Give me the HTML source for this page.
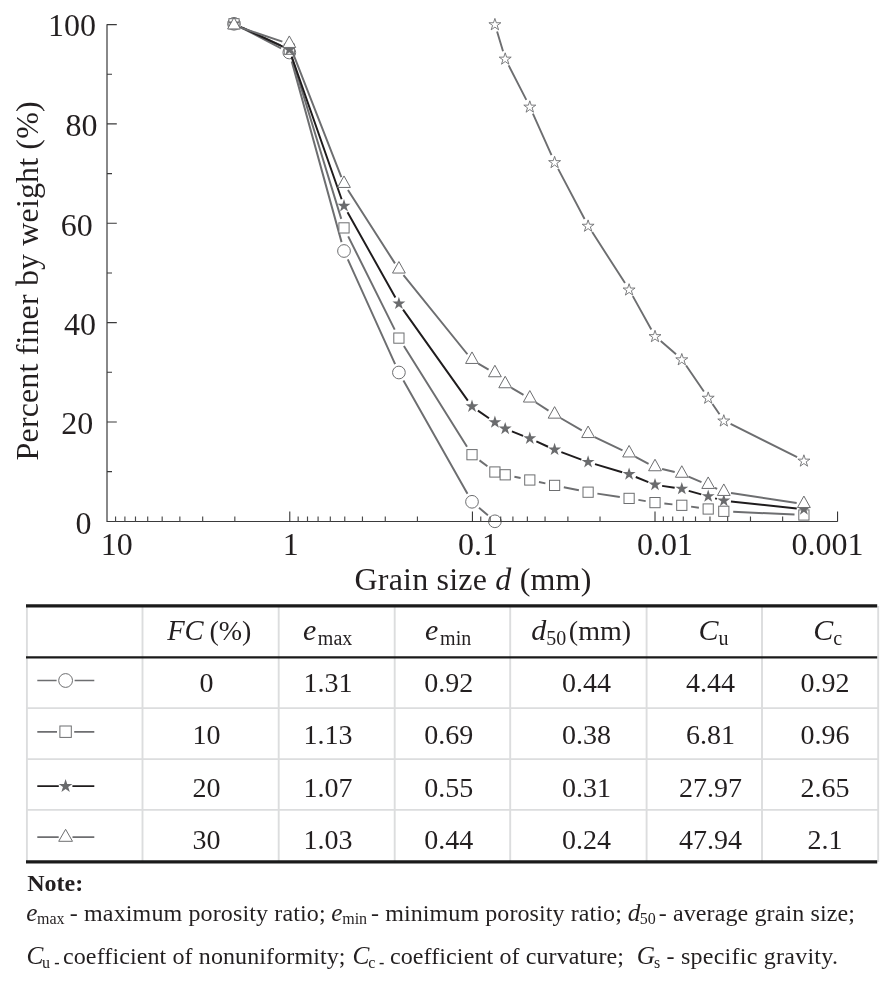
<!DOCTYPE html>
<html><head><meta charset="utf-8"><title>Grain size distribution</title>
<style>html,body{margin:0;padding:0;background:#fff}svg{display:block;will-change:transform}</style></head>
<body>
<svg width="886" height="981" viewBox="0 0 886 981" font-family="'Liberation Serif','Times New Roman',serif" fill="#231f20">
<rect width="886" height="981" fill="#fff"/>
<path d="M242.17 28.04L281.13 48.26M291.74 61.37L341.56 242.13M347.79 259.38L395.11 364.12M403.43 380.51L467.47 493.79M479.00 507.76L487.90 515.34" stroke="#6d6e70" stroke-width="1.95" fill="none"/>
<circle cx="234.00" cy="23.80" r="6.35" fill="#fff" stroke="#6d6e70" stroke-width="1"/>
<circle cx="289.30" cy="52.50" r="6.35" fill="#fff" stroke="#6d6e70" stroke-width="1"/>
<circle cx="344.00" cy="251.00" r="6.35" fill="#fff" stroke="#6d6e70" stroke-width="1"/>
<circle cx="398.90" cy="372.50" r="6.35" fill="#fff" stroke="#6d6e70" stroke-width="1"/>
<circle cx="472.00" cy="501.80" r="6.35" fill="#fff" stroke="#6d6e70" stroke-width="1"/>
<circle cx="494.90" cy="521.30" r="6.35" fill="#fff" stroke="#6d6e70" stroke-width="1"/>
<path d="M242.54 27.72L280.76 45.28M292.05 58.19L341.25 218.91M348.19 236.31L394.71 329.69M403.89 346.06L467.01 446.74M479.50 460.37L487.40 466.33M514.40 476.74L520.60 478.06M538.98 482.00L545.42 483.40M563.81 487.27L578.89 490.33M597.39 493.61L619.81 496.99M638.38 499.90L645.72 501.10M664.35 503.54L672.45 504.36M691.11 506.60L698.89 507.70M733.19 511.73L794.51 514.57" stroke="#6d6e70" stroke-width="1.95" fill="none"/>
<rect x="228.90" y="18.70" width="10.2" height="10.2" fill="#fff" stroke="#6d6e70" stroke-width="1"/>
<rect x="284.20" y="44.10" width="10.2" height="10.2" fill="#fff" stroke="#6d6e70" stroke-width="1"/>
<rect x="338.90" y="222.80" width="10.2" height="10.2" fill="#fff" stroke="#6d6e70" stroke-width="1"/>
<rect x="393.80" y="333.00" width="10.2" height="10.2" fill="#fff" stroke="#6d6e70" stroke-width="1"/>
<rect x="466.90" y="449.60" width="10.2" height="10.2" fill="#fff" stroke="#6d6e70" stroke-width="1"/>
<rect x="489.80" y="466.90" width="10.2" height="10.2" fill="#fff" stroke="#6d6e70" stroke-width="1"/>
<rect x="500.10" y="469.70" width="10.2" height="10.2" fill="#fff" stroke="#6d6e70" stroke-width="1"/>
<rect x="524.70" y="474.90" width="10.2" height="10.2" fill="#fff" stroke="#6d6e70" stroke-width="1"/>
<rect x="549.50" y="480.30" width="10.2" height="10.2" fill="#fff" stroke="#6d6e70" stroke-width="1"/>
<rect x="583.00" y="487.10" width="10.2" height="10.2" fill="#fff" stroke="#6d6e70" stroke-width="1"/>
<rect x="624.00" y="493.30" width="10.2" height="10.2" fill="#fff" stroke="#6d6e70" stroke-width="1"/>
<rect x="649.90" y="497.50" width="10.2" height="10.2" fill="#fff" stroke="#6d6e70" stroke-width="1"/>
<rect x="676.70" y="500.20" width="10.2" height="10.2" fill="#fff" stroke="#6d6e70" stroke-width="1"/>
<rect x="703.10" y="503.90" width="10.2" height="10.2" fill="#fff" stroke="#6d6e70" stroke-width="1"/>
<rect x="718.70" y="506.20" width="10.2" height="10.2" fill="#fff" stroke="#6d6e70" stroke-width="1"/>
<rect x="798.80" y="509.90" width="10.2" height="10.2" fill="#fff" stroke="#6d6e70" stroke-width="1"/>
<path d="M240.52 26.86L282.78 46.74M291.68 56.60L341.62 199.20M347.53 212.28L395.37 297.42M403.07 309.57L467.83 400.63M477.91 410.61L488.99 418.29M511.90 431.44L523.10 435.86M536.36 441.46L548.04 446.74M561.35 452.20L581.35 459.60M595.00 464.15L622.20 472.25M635.77 477.01L648.33 482.09M662.12 485.89L674.68 487.81M688.73 490.87L701.27 494.43M715.13 498.35L716.87 498.85M730.96 501.56L796.74 508.54" stroke="#1f1c1d" stroke-width="1.95" fill="none"/>
<polygon points="234.00,16.90 235.53,21.60 240.47,21.60 236.47,24.50 238.00,29.20 234.00,26.30 230.00,29.20 231.53,24.50 227.53,21.60 232.47,21.60" fill="#6a6b6d"/>
<polygon points="289.30,42.90 290.83,47.60 295.77,47.60 291.77,50.50 293.30,55.20 289.30,52.30 285.30,55.20 286.83,50.50 282.83,47.60 287.77,47.60" fill="#6a6b6d"/>
<polygon points="344.00,199.10 345.53,203.80 350.47,203.80 346.47,206.70 348.00,211.40 344.00,208.50 340.00,211.40 341.53,206.70 337.53,203.80 342.47,203.80" fill="#6a6b6d"/>
<polygon points="398.90,296.80 400.43,301.50 405.37,301.50 401.37,304.40 402.90,309.10 398.90,306.20 394.90,309.10 396.43,304.40 392.43,301.50 397.37,301.50" fill="#6a6b6d"/>
<polygon points="472.00,399.60 473.53,404.30 478.47,404.30 474.47,407.20 476.00,411.90 472.00,409.00 468.00,411.90 469.53,407.20 465.53,404.30 470.47,404.30" fill="#6a6b6d"/>
<polygon points="494.90,415.50 496.43,420.20 501.37,420.20 497.37,423.10 498.90,427.80 494.90,424.90 490.90,427.80 492.43,423.10 488.43,420.20 493.37,420.20" fill="#6a6b6d"/>
<polygon points="505.20,421.90 506.73,426.60 511.67,426.60 507.67,429.50 509.20,434.20 505.20,431.30 501.20,434.20 502.73,429.50 498.73,426.60 503.67,426.60" fill="#6a6b6d"/>
<polygon points="529.80,431.60 531.33,436.30 536.27,436.30 532.27,439.20 533.80,443.90 529.80,441.00 525.80,443.90 527.33,439.20 523.33,436.30 528.27,436.30" fill="#6a6b6d"/>
<polygon points="554.60,442.80 556.13,447.50 561.07,447.50 557.07,450.40 558.60,455.10 554.60,452.20 550.60,455.10 552.13,450.40 548.13,447.50 553.07,447.50" fill="#6a6b6d"/>
<polygon points="588.10,455.20 589.63,459.90 594.57,459.90 590.57,462.80 592.10,467.50 588.10,464.60 584.10,467.50 585.63,462.80 581.63,459.90 586.57,459.90" fill="#6a6b6d"/>
<polygon points="629.10,467.40 630.63,472.10 635.57,472.10 631.57,475.00 633.10,479.70 629.10,476.80 625.10,479.70 626.63,475.00 622.63,472.10 627.57,472.10" fill="#6a6b6d"/>
<polygon points="655.00,477.90 656.53,482.60 661.47,482.60 657.47,485.50 659.00,490.20 655.00,487.30 651.00,490.20 652.53,485.50 648.53,482.60 653.47,482.60" fill="#6a6b6d"/>
<polygon points="681.80,482.00 683.33,486.70 688.27,486.70 684.27,489.60 685.80,494.30 681.80,491.40 677.80,494.30 679.33,489.60 675.33,486.70 680.27,486.70" fill="#6a6b6d"/>
<polygon points="708.20,489.50 709.73,494.20 714.67,494.20 710.67,497.10 712.20,501.80 708.20,498.90 704.20,501.80 705.73,497.10 701.73,494.20 706.67,494.20" fill="#6a6b6d"/>
<polygon points="723.80,493.90 725.33,498.60 730.27,498.60 726.27,501.50 727.80,506.20 723.80,503.30 719.80,506.20 721.33,501.50 717.33,498.60 722.27,498.60" fill="#6a6b6d"/>
<polygon points="803.90,502.40 805.43,507.10 810.37,507.10 806.37,510.00 807.90,514.70 803.90,511.80 799.90,514.70 801.43,510.00 797.43,507.10 802.37,507.10" fill="#6a6b6d"/>
<path d="M240.92 27.73L282.38 41.60M291.96 50.72L341.34 177.12M347.94 190.06L394.96 263.37M403.49 275.19L467.41 354.24M478.31 363.58L488.59 369.55M511.51 387.89L523.49 394.85M535.92 402.49L548.48 410.64M560.92 418.27L581.78 430.36M594.70 437.14L622.50 450.29M635.54 456.85L648.56 463.78M662.09 468.94L674.71 472.00M688.52 476.57L701.48 482.07M714.86 487.91L717.14 488.93M731.02 493.01L796.68 502.93" stroke="#6d6e70" stroke-width="1.95" fill="none"/>
<polygon points="234.00,17.45 240.40,28.95 227.60,28.95" fill="#fff" stroke="#6d6e70" stroke-width="1" stroke-linejoin="miter"/>
<polygon points="289.30,35.95 295.70,47.45 282.90,47.45" fill="#fff" stroke="#6d6e70" stroke-width="1" stroke-linejoin="miter"/>
<polygon points="344.00,175.95 350.40,187.45 337.60,187.45" fill="#fff" stroke="#6d6e70" stroke-width="1" stroke-linejoin="miter"/>
<polygon points="398.90,261.55 405.30,273.05 392.50,273.05" fill="#fff" stroke="#6d6e70" stroke-width="1" stroke-linejoin="miter"/>
<polygon points="472.00,351.95 478.40,363.45 465.60,363.45" fill="#fff" stroke="#6d6e70" stroke-width="1" stroke-linejoin="miter"/>
<polygon points="494.90,365.25 501.30,376.75 488.50,376.75" fill="#fff" stroke="#6d6e70" stroke-width="1" stroke-linejoin="miter"/>
<polygon points="505.20,376.25 511.60,387.75 498.80,387.75" fill="#fff" stroke="#6d6e70" stroke-width="1" stroke-linejoin="miter"/>
<polygon points="529.80,390.55 536.20,402.05 523.40,402.05" fill="#fff" stroke="#6d6e70" stroke-width="1" stroke-linejoin="miter"/>
<polygon points="554.60,406.65 561.00,418.15 548.20,418.15" fill="#fff" stroke="#6d6e70" stroke-width="1" stroke-linejoin="miter"/>
<polygon points="588.10,426.05 594.50,437.55 581.70,437.55" fill="#fff" stroke="#6d6e70" stroke-width="1" stroke-linejoin="miter"/>
<polygon points="629.10,445.45 635.50,456.95 622.70,456.95" fill="#fff" stroke="#6d6e70" stroke-width="1" stroke-linejoin="miter"/>
<polygon points="655.00,459.25 661.40,470.75 648.60,470.75" fill="#fff" stroke="#6d6e70" stroke-width="1" stroke-linejoin="miter"/>
<polygon points="681.80,465.75 688.20,477.25 675.40,477.25" fill="#fff" stroke="#6d6e70" stroke-width="1" stroke-linejoin="miter"/>
<polygon points="708.20,476.95 714.60,488.45 701.80,488.45" fill="#fff" stroke="#6d6e70" stroke-width="1" stroke-linejoin="miter"/>
<polygon points="723.80,483.95 730.20,495.45 717.40,495.45" fill="#fff" stroke="#6d6e70" stroke-width="1" stroke-linejoin="miter"/>
<polygon points="803.90,496.05 810.30,507.55 797.50,507.55" fill="#fff" stroke="#6d6e70" stroke-width="1" stroke-linejoin="miter"/>
<path d="M497.08 31.48L503.02 51.32M508.67 65.36L526.33 99.84M532.90 113.54L551.50 155.16M558.14 168.82L584.56 218.98M592.21 232.09L624.99 283.11M632.79 296.14L651.31 329.46M660.75 341.07L676.05 354.33M686.11 365.56L703.89 391.44M712.49 403.97L719.51 414.23M730.60 423.90L797.10 457.20" stroke="#6d6e70" stroke-width="1.9" fill="none"/>
<polygon points="494.90,18.40 496.31,22.75 500.89,22.75 497.19,25.44 498.60,29.80 494.90,27.11 491.20,29.80 492.61,25.44 488.91,22.75 493.49,22.75" fill="#fff" stroke="#6d6e70" stroke-width="0.9"/>
<polygon points="505.20,52.80 506.61,57.15 511.19,57.15 507.49,59.84 508.90,64.20 505.20,61.51 501.50,64.20 502.91,59.84 499.21,57.15 503.79,57.15" fill="#fff" stroke="#6d6e70" stroke-width="0.9"/>
<polygon points="529.80,100.80 531.21,105.15 535.79,105.15 532.09,107.84 533.50,112.20 529.80,109.51 526.10,112.20 527.51,107.84 523.81,105.15 528.39,105.15" fill="#fff" stroke="#6d6e70" stroke-width="0.9"/>
<polygon points="554.60,156.30 556.01,160.65 560.59,160.65 556.89,163.34 558.30,167.70 554.60,165.01 550.90,167.70 552.31,163.34 548.61,160.65 553.19,160.65" fill="#fff" stroke="#6d6e70" stroke-width="0.9"/>
<polygon points="588.10,219.90 589.51,224.25 594.09,224.25 590.39,226.94 591.80,231.30 588.10,228.61 584.40,231.30 585.81,226.94 582.11,224.25 586.69,224.25" fill="#fff" stroke="#6d6e70" stroke-width="0.9"/>
<polygon points="629.10,283.70 630.51,288.05 635.09,288.05 631.39,290.74 632.80,295.10 629.10,292.41 625.40,295.10 626.81,290.74 623.11,288.05 627.69,288.05" fill="#fff" stroke="#6d6e70" stroke-width="0.9"/>
<polygon points="655.00,330.30 656.41,334.65 660.99,334.65 657.29,337.34 658.70,341.70 655.00,339.01 651.30,341.70 652.71,337.34 649.01,334.65 653.59,334.65" fill="#fff" stroke="#6d6e70" stroke-width="0.9"/>
<polygon points="681.80,353.50 683.21,357.85 687.79,357.85 684.09,360.54 685.50,364.90 681.80,362.21 678.10,364.90 679.51,360.54 675.81,357.85 680.39,357.85" fill="#fff" stroke="#6d6e70" stroke-width="0.9"/>
<polygon points="708.20,391.90 709.61,396.25 714.19,396.25 710.49,398.94 711.90,403.30 708.20,400.61 704.50,403.30 705.91,398.94 702.21,396.25 706.79,396.25" fill="#fff" stroke="#6d6e70" stroke-width="0.9"/>
<polygon points="723.80,414.70 725.21,419.05 729.79,419.05 726.09,421.74 727.50,426.10 723.80,423.41 720.10,426.10 721.51,421.74 717.81,419.05 722.39,419.05" fill="#fff" stroke="#6d6e70" stroke-width="0.9"/>
<polygon points="803.90,454.80 805.31,459.15 809.89,459.15 806.19,461.84 807.60,466.20 803.90,463.51 800.20,466.20 801.61,461.84 797.91,459.15 802.49,459.15" fill="#fff" stroke="#6d6e70" stroke-width="0.9"/>
<path d="M107.0 24.3V521.5H837.6" stroke="#3a3a3b" stroke-width="1.2" fill="none"/>
<path d="M107.0 471.63h5.0M107.0 421.96h9.8M107.0 372.29h5.0M107.0 322.62h9.8M107.0 272.95h5.0M107.0 223.28h9.8M107.0 173.61h5.0M107.0 123.94h9.8M107.0 74.27h5.0M107.0 24.60h9.8" stroke="#3a3a3b" stroke-width="1.15" fill="none"/>
<path d="M115.56 521.5v-5M124.90 521.5v-5M135.49 521.5v-5M147.71 521.5v-5M162.17 521.5v-5M179.86 521.5v-5M202.68 521.5v-5M234.83 521.5v-5M298.16 521.5v-5M307.50 521.5v-5M318.09 521.5v-5M330.31 521.5v-5M344.77 521.5v-5M362.46 521.5v-5M385.28 521.5v-5M417.43 521.5v-5M480.76 521.5v-5M490.10 521.5v-5M500.69 521.5v-5M512.91 521.5v-5M527.37 521.5v-5M545.06 521.5v-5M567.88 521.5v-5M600.03 521.5v-5M663.36 521.5v-5M672.70 521.5v-5M683.29 521.5v-5M695.51 521.5v-5M709.97 521.5v-5M727.66 521.5v-5M750.48 521.5v-5M782.63 521.5v-5" stroke="#4a4a4a" stroke-width="1.15" fill="none"/>
<path d="M289.80 521.5v-10M472.40 521.5v-10M655.00 521.5v-10M837.60 521.5v-10" stroke="#222" stroke-width="1.0" fill="none"/>
<text x="95.9" y="36.0" font-size="32" text-anchor="end">100</text>
<text x="97.4" y="135.6" font-size="32" text-anchor="end">80</text>
<text x="92.8" y="235.8" font-size="32" text-anchor="end">60</text>
<text x="96.0" y="334.9" font-size="32" text-anchor="end">40</text>
<text x="93.3" y="434.2" font-size="32" text-anchor="end">20</text>
<text x="91.6" y="534.0" font-size="32" text-anchor="end">0</text>
<text x="116.7" y="554.7" font-size="32" text-anchor="middle">10</text>
<text x="290.7" y="554.7" font-size="32" text-anchor="middle">1</text>
<text x="478.0" y="554.7" font-size="32" text-anchor="middle">0.1</text>
<text x="664.9" y="554.7" font-size="32" text-anchor="middle">0.01</text>
<text x="827.6" y="554.7" font-size="32" text-anchor="middle">0.001</text>
<text x="472.9" y="589.6" font-size="32" text-anchor="middle" textLength="236.8">Grain size <tspan font-style="italic">d</tspan> (mm)</text>
<text transform="translate(38.1 280.9) rotate(-90)" font-size="32" text-anchor="middle" textLength="359">Percent finer by weight (%)</text>
<path d="M26.9 605.9V861.9M142.5 605.9V861.9M278.7 605.9V861.9M394.7 605.9V861.9M510.2 605.9V861.9M646.6 605.9V861.9M762.0 605.9V861.9M878.2 605.9V861.9M26.0 708.1H879.1M26.0 759.1H879.1M26.0 809.9H879.1" stroke="#dcddde" stroke-width="1.9" fill="none"/>
<path d="M26.0 605.9H877.2" stroke="#1a1a1a" stroke-width="3.2"/>
<path d="M26.0 657.3H877.2" stroke="#1a1a1a" stroke-width="2.35"/>
<path d="M26.0 861.9H877.2" stroke="#1a1a1a" stroke-width="3.1"/>
<text x="209.3" y="640.1" font-size="28" text-anchor="middle"><tspan font-style="italic" font-size="28.6">FC</tspan><tspan dx="-1.2"> (%)</tspan></text>
<text x="327.6" y="640.1" font-size="28" text-anchor="middle"><tspan font-style="italic" font-size="30">e</tspan><tspan font-size="20" dx="1.6" dy="4.6">max</tspan></text>
<text x="448.1" y="640.1" font-size="28" text-anchor="middle"><tspan font-style="italic" font-size="30">e</tspan><tspan font-size="20" dx="1.8" dy="4.6">min</tspan></text>
<text x="581.2" y="640.1" font-size="28" text-anchor="middle"><tspan font-style="italic" font-size="30">d</tspan><tspan font-size="20" dx="0" dy="4.6">50</tspan><tspan dy="-4.6" dx="2.5">(mm)</tspan></text>
<text x="713.4" y="640.1" font-size="28" text-anchor="middle"><tspan font-style="italic" font-size="30">C</tspan><tspan font-size="20" dy="4.6">u</tspan></text>
<text x="827.6" y="640.1" font-size="28" text-anchor="middle"><tspan font-style="italic" font-size="30">C</tspan><tspan font-size="20" dy="4.6">c</tspan></text>
<text x="206.6" y="692.4" font-size="28" text-anchor="middle">0</text>
<text x="328.1" y="692.4" font-size="28" text-anchor="middle">1.31</text>
<text x="448.7" y="692.4" font-size="28" text-anchor="middle">0.92</text>
<text x="586.4" y="692.4" font-size="28" text-anchor="middle">0.44</text>
<text x="710.5" y="692.4" font-size="28" text-anchor="middle">4.44</text>
<text x="825.0" y="692.4" font-size="28" text-anchor="middle">0.92</text>
<text x="206.6" y="744.4" font-size="28" text-anchor="middle">10</text>
<text x="328.1" y="744.4" font-size="28" text-anchor="middle">1.13</text>
<text x="448.7" y="744.4" font-size="28" text-anchor="middle">0.69</text>
<text x="586.4" y="744.4" font-size="28" text-anchor="middle">0.38</text>
<text x="710.5" y="744.4" font-size="28" text-anchor="middle">6.81</text>
<text x="825.0" y="744.4" font-size="28" text-anchor="middle">0.96</text>
<text x="206.6" y="796.7" font-size="28" text-anchor="middle">20</text>
<text x="328.1" y="796.7" font-size="28" text-anchor="middle">1.07</text>
<text x="448.7" y="796.7" font-size="28" text-anchor="middle">0.55</text>
<text x="586.4" y="796.7" font-size="28" text-anchor="middle">0.31</text>
<text x="710.5" y="796.7" font-size="28" text-anchor="middle">27.97</text>
<text x="825.0" y="796.7" font-size="28" text-anchor="middle">2.65</text>
<text x="206.6" y="848.8" font-size="28" text-anchor="middle">30</text>
<text x="328.1" y="848.8" font-size="28" text-anchor="middle">1.03</text>
<text x="448.7" y="848.8" font-size="28" text-anchor="middle">0.44</text>
<text x="586.4" y="848.8" font-size="28" text-anchor="middle">0.24</text>
<text x="710.5" y="848.8" font-size="28" text-anchor="middle">47.94</text>
<text x="825.0" y="848.8" font-size="28" text-anchor="middle">2.1</text>
<path d="M37.3 680.5H56.599999999999994M74.6 680.5H94.3" stroke="#6d6e70" stroke-width="1.7"/>
<path d="M37.3 731.8H56.99999999999999M74.19999999999999 731.8H94.3" stroke="#6d6e70" stroke-width="1.7"/>
<path d="M37.3 786.1H58.8M72.39999999999999 786.1H94.3" stroke="#1f1c1d" stroke-width="1.7"/>
<path d="M37.3 837.2H58.699999999999996M72.5 837.2H94.3" stroke="#6d6e70" stroke-width="1.7"/>
<circle cx="65.6" cy="680.5" r="6.9" fill="#fff" stroke="#6d6e70" stroke-width="1"/>
<rect x="59.89999999999999" y="726.0" width="11.4" height="11.4" fill="#fff" stroke="#6d6e70" stroke-width="1"/>
<polygon points="65.60,779.00 67.22,783.97 72.45,783.98 68.22,787.05 69.83,792.02 65.60,788.95 61.37,792.02 62.98,787.05 58.75,783.98 63.98,783.97" fill="#6a6b6d"/>
<polygon points="65.60,829.30 72.50,841.30 58.70,841.30" fill="#fff" stroke="#6d6e70" stroke-width="1"/>
<text x="27.2" y="891.3" font-size="24" font-weight="bold">Note:</text>
<text x="26.3" y="920.9" font-size="25.3" font-style="italic">e</text>
<text x="37.0" y="923.8" font-size="16.0">max</text>
<text x="69.8" y="920.9" font-size="24" textLength="255.8">- maximum porosity ratio;</text>
<text x="331.2" y="920.9" font-size="25.3" font-style="italic">e</text>
<text x="342.2" y="923.8" font-size="16.0">min</text>
<text x="371.1" y="920.9" font-size="24" textLength="250.7">- minimum porosity ratio;</text>
<text x="627.7" y="920.9" font-size="25.3" font-style="italic">d</text>
<text x="639.7" y="923.8" font-size="16.0">50</text>
<text x="658.7" y="920.9" font-size="24" textLength="196.2">- average grain size;</text>
<text x="26.6" y="963.5" font-size="25.3" font-style="italic">C</text>
<text x="42.0" y="967.8" font-size="16.0">u</text>
<text x="54.3" y="967.7" font-size="16.0" font-weight="bold">-</text>
<text x="63.0" y="963.5" font-size="24" textLength="282.5">coefficient of nonuniformity;</text>
<text x="352.6" y="963.5" font-size="25.3" font-style="italic">C</text>
<text x="368.2" y="967.8" font-size="16.0">c</text>
<text x="379.0" y="967.7" font-size="16.0" font-weight="bold">-</text>
<text x="389.9" y="963.5" font-size="24" textLength="234.1">coefficient of curvature;</text>
<text x="636.8" y="963.5" font-size="25.3" font-style="italic">G</text>
<text x="653.9" y="967.8" font-size="16.0">s</text>
<text x="666.5" y="963.5" font-size="24" textLength="171.4">- specific gravity.</text>
</svg>
</body></html>
